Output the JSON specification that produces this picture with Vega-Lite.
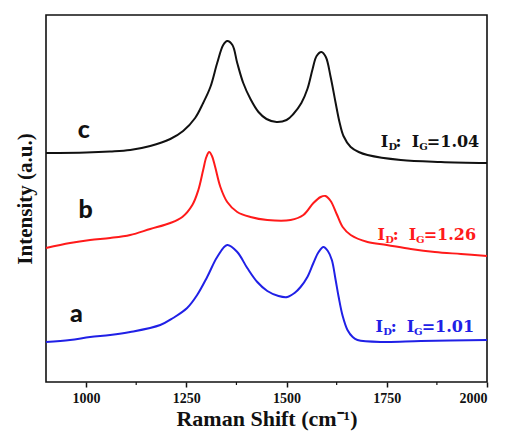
{
  "$schema": "https://vega.github.io/schema/vega-lite/v6.json",
  "width": 441,
  "height": 367,
  "autosize": {"type": "none"},
  "padding": {"left": 46, "top": 15, "right": 24, "bottom": 58},
  "background": "white",
  "config": {
    "view": {"stroke": "#111", "strokeWidth": 1.6},
    "font": "Liberation Serif"
  },
  "datasets": {
    "spectra": [
      {"series": "c", "x": 900, "y": 229}, {"series": "c", "x": 1000, "y": 229.5}, {"series": "c", "x": 1060, "y": 230.5},
      {"series": "c", "x": 1110, "y": 232}, {"series": "c", "x": 1160, "y": 236}, {"series": "c", "x": 1210, "y": 243},
      {"series": "c", "x": 1242, "y": 251},
      {"series": "c", "x": 1272, "y": 264}, {"series": "c", "x": 1292, "y": 279}, {"series": "c", "x": 1310, "y": 295},
      {"series": "c", "x": 1327, "y": 319}, {"series": "c", "x": 1342, "y": 337}, {"series": "c", "x": 1352, "y": 341},
      {"series": "c", "x": 1365, "y": 337}, {"series": "c", "x": 1377, "y": 319}, {"series": "c", "x": 1392, "y": 299},
      {"series": "c", "x": 1410, "y": 283}, {"series": "c", "x": 1430, "y": 270}, {"series": "c", "x": 1450, "y": 263},
      {"series": "c", "x": 1475, "y": 260}, {"series": "c", "x": 1500, "y": 262}, {"series": "c", "x": 1517, "y": 268},
      {"series": "c", "x": 1537, "y": 279}, {"series": "c", "x": 1552, "y": 293}, {"series": "c", "x": 1565, "y": 313},
      {"series": "c", "x": 1575, "y": 326}, {"series": "c", "x": 1587, "y": 330}, {"series": "c", "x": 1598, "y": 325},
      {"series": "c", "x": 1610, "y": 305}, {"series": "c", "x": 1622, "y": 280}, {"series": "c", "x": 1632, "y": 260},
      {"series": "c", "x": 1642, "y": 246}, {"series": "c", "x": 1660, "y": 235}, {"series": "c", "x": 1680, "y": 230},
      {"series": "c", "x": 1702, "y": 227}, {"series": "c", "x": 1785, "y": 222}, {"series": "c", "x": 1885, "y": 220},
      {"series": "c", "x": 2000, "y": 219},
      {"series": "b", "x": 900, "y": 134}, {"series": "b", "x": 960, "y": 139}, {"series": "b", "x": 1010, "y": 142},
      {"series": "b", "x": 1060, "y": 144}, {"series": "b", "x": 1110, "y": 147},
      {"series": "b", "x": 1160, "y": 153}, {"series": "b", "x": 1210, "y": 159}, {"series": "b", "x": 1240, "y": 165},
      {"series": "b", "x": 1265, "y": 177}, {"series": "b", "x": 1280, "y": 192}, {"series": "b", "x": 1292, "y": 212},
      {"series": "b", "x": 1300, "y": 225}, {"series": "b", "x": 1307, "y": 230}, {"series": "b", "x": 1314, "y": 226},
      {"series": "b", "x": 1322, "y": 215}, {"series": "b", "x": 1335, "y": 195}, {"series": "b", "x": 1352, "y": 180},
      {"series": "b", "x": 1377, "y": 170}, {"series": "b", "x": 1410, "y": 165}, {"series": "b", "x": 1452, "y": 162},
      {"series": "b", "x": 1510, "y": 162}, {"series": "b", "x": 1542, "y": 167}, {"series": "b", "x": 1567, "y": 179},
      {"series": "b", "x": 1585, "y": 185}, {"series": "b", "x": 1597, "y": 186}, {"series": "b", "x": 1610, "y": 181},
      {"series": "b", "x": 1625, "y": 168}, {"series": "b", "x": 1640, "y": 155}, {"series": "b", "x": 1660, "y": 147},
      {"series": "b", "x": 1702, "y": 140}, {"series": "b", "x": 1750, "y": 137}, {"series": "b", "x": 1810, "y": 133},
      {"series": "b", "x": 1870, "y": 130}, {"series": "b", "x": 1935, "y": 128}, {"series": "b", "x": 2000, "y": 126},
      {"series": "a", "x": 900, "y": 40}, {"series": "a", "x": 960, "y": 42}, {"series": "a", "x": 1010, "y": 45},
      {"series": "a", "x": 1060, "y": 47}, {"series": "a", "x": 1110, "y": 50},
      {"series": "a", "x": 1185, "y": 57}, {"series": "a", "x": 1217, "y": 64}, {"series": "a", "x": 1252, "y": 74},
      {"series": "a", "x": 1277, "y": 87}, {"series": "a", "x": 1302, "y": 105}, {"series": "a", "x": 1327, "y": 125},
      {"series": "a", "x": 1352, "y": 137}, {"series": "a", "x": 1377, "y": 130}, {"series": "a", "x": 1402, "y": 114},
      {"series": "a", "x": 1427, "y": 100}, {"series": "a", "x": 1452, "y": 91}, {"series": "a", "x": 1480, "y": 86},
      {"series": "a", "x": 1502, "y": 85}, {"series": "a", "x": 1520, "y": 89}, {"series": "a", "x": 1535, "y": 95},
      {"series": "a", "x": 1552, "y": 105}, {"series": "a", "x": 1567, "y": 119}, {"series": "a", "x": 1580, "y": 130},
      {"series": "a", "x": 1592, "y": 135}, {"series": "a", "x": 1603, "y": 131}, {"series": "a", "x": 1613, "y": 122},
      {"series": "a", "x": 1622, "y": 103}, {"series": "a", "x": 1630, "y": 85}, {"series": "a", "x": 1640, "y": 66},
      {"series": "a", "x": 1652, "y": 52}, {"series": "a", "x": 1665, "y": 45}, {"series": "a", "x": 1677, "y": 42},
      {"series": "a", "x": 1742, "y": 40}, {"series": "a", "x": 1835, "y": 41}, {"series": "a", "x": 2000, "y": 42}
    ],
    "letters": [
      {"series": "c", "x": 994, "y": 244, "text": "c"},
      {"series": "b", "x": 999, "y": 164, "text": "b"},
      {"series": "a", "x": 976, "y": 60, "text": "a"}
    ],
    "ratios": [
      {"series": "c", "role": "main", "x": 1735, "y": 235, "text": "I"},
      {"series": "c", "role": "sub", "x": 1754, "y": 235, "text": "D"},
      {"series": "c", "role": "main", "x": 1772, "y": 235, "text": ":"},
      {"series": "c", "role": "main", "x": 1812, "y": 235, "text": "I"},
      {"series": "c", "role": "sub", "x": 1831, "y": 235, "text": "G"},
      {"series": "c", "role": "main", "x": 1850, "y": 235, "text": "=1.04"},
      {"series": "b", "role": "main", "x": 1727, "y": 142, "text": "I"},
      {"series": "b", "role": "sub", "x": 1746, "y": 142, "text": "D"},
      {"series": "b", "role": "main", "x": 1765, "y": 142, "text": ":"},
      {"series": "b", "role": "main", "x": 1805, "y": 142, "text": "I"},
      {"series": "b", "role": "sub", "x": 1823, "y": 142, "text": "G"},
      {"series": "b", "role": "main", "x": 1842, "y": 142, "text": "=1.26"},
      {"series": "a", "role": "main", "x": 1722, "y": 50, "text": "I"},
      {"series": "a", "role": "sub", "x": 1741, "y": 50, "text": "D"},
      {"series": "a", "role": "main", "x": 1760, "y": 50, "text": ":"},
      {"series": "a", "role": "main", "x": 1800, "y": 50, "text": "I"},
      {"series": "a", "role": "sub", "x": 1818, "y": 50, "text": "G"},
      {"series": "a", "role": "main", "x": 1837, "y": 50, "text": "=1.01"}
    ],
    "minor": [{"x": 1125}, {"x": 1375}, {"x": 1625}, {"x": 1875}]
  },
  "layer": [
    {
      "data": {"name": "spectra"},
      "mark": {"type": "line", "strokeWidth": 2, "interpolate": "catmull-rom"},
      "encoding": {
        "x": {
          "field": "x", "type": "quantitative",
          "scale": {"domain": [900, 2000], "nice": false, "zero": false},
          "axis": {
            "title": "Raman Shift (cm⁻¹)",
            "values": [1000, 1250, 1500, 1750, 2000],
            "format": "d",
            "grid": false, "domain": false,
            "tickColor": "#111", "tickSize": 5, "tickWidth": 1.5,
            "labelFont": "Liberation Serif", "labelFontWeight": "bold", "labelFontSize": 14, "labelColor": "#111",
            "labelPadding": 4,
            "titleFont": "Liberation Serif", "titleFontWeight": "bold", "titleFontSize": 22, "titleColor": "#111",
            "titlePadding": 3
          }
        },
        "y": {
          "field": "y", "type": "quantitative",
          "scale": {"domain": [0, 367], "nice": false},
          "axis": {
            "title": "Intensity (a.u.)",
            "labels": false, "ticks": false, "domain": false, "grid": false,
            "titleFont": "Liberation Serif", "titleFontWeight": "bold", "titleFontSize": 21, "titleColor": "#111",
            "titlePadding": 11
          }
        },
        "color": {
          "field": "series", "type": "nominal",
          "scale": {"domain": ["a", "b", "c"], "range": ["#2020e6", "#ff1a1a", "#111111"]},
          "legend": null
        },
        "detail": {"field": "series"}
      }
    },
    {
      "data": {"name": "minor"},
      "mark": {"type": "rule", "strokeWidth": 1.2, "color": "#111", "clip": false},
      "encoding": {
        "x": {"field": "x", "type": "quantitative"},
        "y": {"datum": 0},
        "y2": {"datum": -3}
      }
    },
    {
      "data": {"name": "letters"},
      "mark": {"type": "text", "font": "Lato", "fontWeight": 900, "fontSize": 25, "align": "center", "baseline": "alphabetic", "color": "#111"},
      "encoding": {
        "x": {"field": "x", "type": "quantitative"},
        "y": {"field": "y", "type": "quantitative"},
        "text": {"field": "text"}
      }
    },
    {
      "data": {"name": "ratios"},
      "transform": [{"filter": "datum.role === 'main'"}],
      "mark": {"type": "text", "font": "DejaVu Serif", "fontWeight": "bold", "fontSize": 16, "align": "left", "baseline": "alphabetic"},
      "encoding": {
        "x": {"field": "x", "type": "quantitative"},
        "y": {"field": "y", "type": "quantitative"},
        "text": {"field": "text"},
        "color": {"field": "series", "type": "nominal", "legend": null}
      }
    },
    {
      "data": {"name": "ratios"},
      "transform": [{"filter": "datum.role === 'sub'"}],
      "mark": {"type": "text", "font": "DejaVu Serif", "fontWeight": "bold", "fontSize": 10, "align": "left", "baseline": "alphabetic", "dy": 3},
      "encoding": {
        "x": {"field": "x", "type": "quantitative"},
        "y": {"field": "y", "type": "quantitative"},
        "text": {"field": "text"},
        "color": {"field": "series", "type": "nominal", "legend": null}
      }
    }
  ]
}
